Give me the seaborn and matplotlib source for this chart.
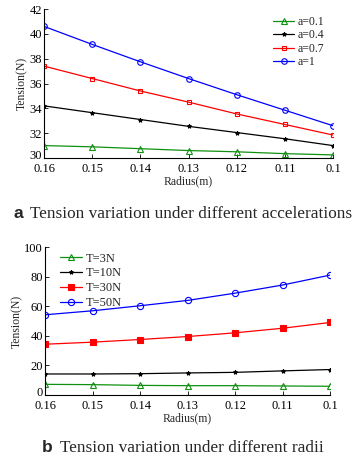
import matplotlib
matplotlib.use("Agg")
import matplotlib.pyplot as plt
import matplotlib.transforms as mtransforms
import seaborn as sns
import pandas as pd

radius = [0.16, 0.15, 0.14, 0.13, 0.12, 0.11, 0.10]
radius_labels = ["0.16", "0.15", "0.14", "0.13", "0.12", "0.11", "0.1"]

# Panel a
acc_labels = ["a=0.1", "a=0.4", "a=0.7", "a=1"]
a01 = [31.0, 30.9, 30.75, 30.6, 30.5, 30.35, 30.25]
a04 = [34.2, 33.65, 33.1, 32.55, 32.05, 31.55, 31.0]
a07 = [37.4, 36.4, 35.4, 34.5, 33.55, 32.7, 31.85]
a10 = [40.6, 39.15, 37.75, 36.4, 35.1, 33.85, 32.6]

# Panel b
t_labels = ["T=3N", "T=10N", "T=30N", "T=50N"]
t3 = [7.2, 7.0, 6.5, 6.3, 6.3, 6.1, 5.9]
t10 = [14.2, 14.2, 14.4, 14.9, 15.3, 16.3, 17.2]
t30 = [34.3, 35.7, 37.5, 39.5, 42.0, 45.1, 49.0]
t50 = [54.2, 56.9, 60.3, 63.9, 68.8, 74.3, 81.0]

sns.set_theme(style="white")
plt.rcParams["font.family"] = ["Liberation Serif", "DejaVu Serif"]

colors = ["#109010", "#000000", "#ff0000", "#0000ff"]
styles_a = [dict(marker="^", mfc="none", ms=4.5), dict(marker="*", mfc="#000000", ms=3),
            dict(marker="s", mfc="none", ms=3.5), dict(marker="o", mfc="none", ms=4)]
styles_b = [dict(marker="^", mfc="none", ms=4.5), dict(marker="*", mfc="#000000", ms=3),
            dict(marker="s", mfc="#ff0000", ms=4), dict(marker="o", mfc="none", ms=4.5)]

fig = plt.figure(figsize=(3.58, 4.66), dpi=100)
W, H = 358, 466

def make_ax(left, top, right, bottom):
    return fig.add_axes([left / W, 1 - bottom / H, (right - left) / W, (bottom - top) / H])

def style_ax(ax, ylim, yticks):
    ax.set_xlim(0.16, 0.10)
    ax.set_xticks(radius)
    ax.set_xticklabels(radius_labels)
    ax.set_ylim(*ylim)
    ax.set_yticks(yticks)
    ax.set_yticklabels([str(v) for v in yticks])
    for s in ["top", "right"]:
        ax.spines[s].set_visible(False)
    for s in ["left", "bottom"]:
        ax.spines[s].set_color("black")
        ax.spines[s].set_linewidth(0.8)
    ax.tick_params(axis="both", direction="in", length=3, width=0.6, labelsize=9,
                   colors="black", bottom=True, left=True)
    ax.tick_params(axis="x", pad=3.8)
    ax.tick_params(axis="y", pad=1.5)
    ax.set_xlabel("Radius(m)", fontsize=8.5, labelpad=0)
    ax.set_ylabel("Tension(N)", fontsize=8.5, labelpad=1)
    # nudge the lowest y label up slightly so it does not collide with the first x label
    lab0 = ax.get_yticklabels()[0]
    lab0.set_transform(lab0.get_transform() +
                       mtransforms.ScaledTranslation(0, 2.5 / 72, fig.dpi_scale_trans))

def draw(ax, labels, series, styles):
    for lab, vals, c, st in zip(labels, series, colors, styles):
        df = pd.DataFrame({"r": radius, "v": vals})
        sns.lineplot(data=df, x="r", y="v", ax=ax, color=c, lw=0.9, label=lab,
                     marker=st["marker"], markersize=st["ms"], markerfacecolor=st["mfc"],
                     markeredgecolor=c, markeredgewidth=0.8)

ax1 = make_ax(44, 9, 333, 158)
draw(ax1, acc_labels, [a01, a04, a07, a10], styles_a)
style_ax(ax1, (30, 42), [30, 32, 34, 36, 38, 40, 42])
ax1.legend(loc="upper right", bbox_to_anchor=(0.985, 0.985), frameon=False, fontsize=8.5,
           handlelength=1.8, handletextpad=0.25, labelspacing=0.12, borderaxespad=0)

ax2 = make_ax(45, 247, 330, 395)
draw(ax2, t_labels, [t3, t10, t30, t50], styles_b)
style_ax(ax2, (0, 100), [0, 20, 40, 60, 80, 100])
ax2.legend(loc="upper left", bbox_to_anchor=(0.035, 0.995), frameon=False, fontsize=9,
           handlelength=1.8, handletextpad=0.25, labelspacing=0.22, borderaxespad=0)

# captions
fig.text(14 / W, 1 - 214 / H, "a", fontsize=12.5, fontweight="bold",
         family=["Liberation Sans", "DejaVu Sans"], va="center", ha="left")
fig.text(30 / W, 1 - 214 / H, "Tension variation under different accelerations",
         fontsize=12.4, va="center", ha="left")
fig.text(42 / W, 1 - 448 / H, "b", fontsize=12.5, fontweight="bold",
         family=["Liberation Sans", "DejaVu Sans"], va="center", ha="left")
fig.text(60 / W, 1 - 448 / H, "Tension variation under different radii",
         fontsize=12.4, va="center", ha="left")

fig.savefig("out.png", dpi=100, facecolor="white")
